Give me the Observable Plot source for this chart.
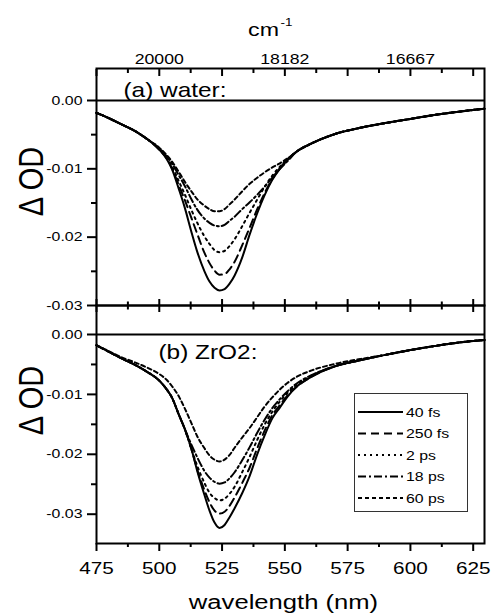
<!DOCTYPE html>
<html>
<head>
<meta charset="utf-8">
<script src="https://cdn.jsdelivr.net/npm/d3@7"></script>
<script src="https://cdn.jsdelivr.net/npm/@observablehq/plot@0.6"></script>
<style>
  html, body { margin: 0; padding: 0; background: #fff; }
  #chart { position: relative; width: 491px; height: 613px; background: #fff; }
  #chart svg { position: absolute; left: 0; top: 0; overflow: visible; }
</style>
</head>
<body>
<div id="chart"></div>
<script>
// ---------------- data ----------------
const wavelengths = [475,480,485,490,495,500,503,505,508,510,513,515,518,520,522,524,526,528,530,533,536,539,542,545,548,551,555,560,570,580,590,600,610,620,629.5];
const delays = ["40 fs", "250 fs", "2 ps", "18 ps", "60 ps"];

// (a) water, ΔOD in units of 1e-3
const water_40fs  = [-1.8,-2.6,-3.5,-4.4,-5.6,-7.2,-8.6,-10.0,-13.2,-15.5,-19.5,-22.0,-25.0,-26.5,-27.4,-27.8,-27.6,-26.8,-25.6,-23.0,-19.6,-16.5,-13.8,-11.6,-10.0,-8.7,-7.4,-6.4,-4.9,-4.0,-3.3,-2.7,-2.1,-1.6,-1.2];
const water_250fs = [-1.8,-2.6,-3.5,-4.4,-5.6,-7.2,-8.5,-9.9,-12.6,-14.4,-17.4,-19.4,-22.3,-23.8,-24.9,-25.5,-25.4,-24.7,-23.6,-21.2,-18.6,-15.9,-13.5,-11.5,-9.9,-8.7,-7.4,-6.4,-4.9,-4.0,-3.3,-2.7,-2.1,-1.6,-1.2];
const water_2ps   = [-1.8,-2.6,-3.5,-4.4,-5.6,-7.1,-8.4,-9.6,-12.0,-13.6,-16.2,-17.8,-19.9,-21.0,-21.9,-22.2,-22.0,-21.3,-20.3,-18.4,-16.4,-14.5,-12.6,-11.0,-9.7,-8.6,-7.4,-6.4,-4.9,-4.0,-3.3,-2.7,-2.1,-1.6,-1.2];
const water_18ps  = [-1.8,-2.6,-3.5,-4.4,-5.6,-7.0,-8.2,-9.2,-11.1,-12.4,-14.6,-15.9,-17.3,-17.9,-18.3,-18.4,-18.2,-17.6,-17.0,-15.9,-14.9,-13.8,-12.6,-11.3,-10.0,-8.9,-7.4,-6.4,-4.9,-4.0,-3.3,-2.7,-2.1,-1.6,-1.2];
const water_60ps  = [-1.8,-2.6,-3.5,-4.4,-5.6,-6.9,-8.0,-8.9,-10.6,-11.8,-13.4,-14.4,-15.4,-15.9,-16.2,-16.2,-15.9,-15.2,-14.5,-13.3,-12.2,-11.3,-10.5,-9.8,-9.2,-8.5,-7.4,-6.4,-4.9,-4.0,-3.3,-2.7,-2.1,-1.6,-1.2];

// (b) ZrO2, ΔOD in units of 1e-3
const zro2_40fs   = [-1.8,-2.9,-4.0,-5.0,-6.2,-7.7,-9.2,-10.5,-13.6,-15.6,-19.4,-22.6,-26.8,-29.4,-31.4,-32.3,-31.8,-30.5,-29.0,-26.5,-23.6,-20.0,-16.8,-14.0,-12.2,-10.4,-8.6,-7.2,-5.3,-4.3,-3.4,-2.6,-1.9,-1.3,-0.9];
const zro2_250fs  = [-1.8,-2.9,-4.0,-5.0,-6.2,-7.7,-9.2,-10.5,-13.6,-15.6,-19.4,-22.4,-26.0,-28.0,-29.4,-29.9,-29.6,-28.6,-27.2,-24.8,-22.2,-19.0,-16.0,-13.5,-11.8,-10.2,-8.6,-7.2,-5.3,-4.3,-3.4,-2.6,-1.9,-1.3,-0.9];
const zro2_2ps    = [-1.8,-2.9,-4.0,-5.0,-6.2,-7.7,-9.2,-10.5,-13.6,-15.6,-19.4,-21.8,-24.8,-26.4,-27.3,-27.7,-27.4,-26.6,-25.4,-23.0,-20.4,-17.6,-15.0,-12.9,-11.2,-9.8,-8.3,-7.0,-5.3,-4.3,-3.4,-2.6,-1.9,-1.3,-0.9];
const zro2_18ps   = [-1.8,-2.9,-4.0,-5.0,-6.2,-7.7,-9.2,-10.5,-13.6,-15.6,-18.6,-20.4,-22.8,-23.9,-24.6,-24.9,-24.7,-24.0,-23.0,-21.0,-18.8,-16.4,-14.2,-12.3,-10.8,-9.5,-8.1,-6.9,-5.3,-4.3,-3.4,-2.6,-1.9,-1.3,-0.9];
const zro2_60ps   = [-1.8,-2.8,-3.8,-4.6,-5.5,-6.6,-7.6,-8.6,-10.5,-12.2,-15.0,-16.9,-19.0,-20.2,-20.9,-21.2,-20.9,-20.1,-18.9,-17.2,-15.6,-13.8,-12.0,-10.5,-9.2,-8.1,-7.0,-6.1,-4.9,-4.1,-3.4,-2.6,-1.9,-1.3,-0.9];

const waterSeries = [water_40fs, water_250fs, water_2ps, water_18ps, water_60ps];
const zro2Series  = [zro2_40fs, zro2_250fs, zro2_2ps, zro2_18ps, zro2_60ps];

// axis ticks and labels
const xMajorTicks = [475,500,525,550,575,600,625];
const xMinorTicks = [487.5,512.5,537.5,562.5,587.5,612.5];
const xTickLabels = ["475","500","525","550","575","600","625"];
const topTickWavelengths = [500,550,600];
const topTickLabels = ["20000","18182","16667"];
const yMajorTicks = [0,-0.01,-0.02,-0.03];
const yMinorTicks = [-0.005,-0.015,-0.025];
const yTickLabels = ["0.00","-0.01","-0.02","-0.03"];

// ---------------- styling ----------------
const dashes = [null, "8,5", "2,4", "8,3,2,3", "4,3"];
const FONT = "'Liberation Sans', Arial, Helvetica, sans-serif";
const SX = 1.22; // horizontal text stretch seen in the original

function rowsOf(vals) {
  return wavelengths.map((w, j) => ({w, v: vals[j] / 1000}));
}
function curveMarks(series) {
  return series.map((vals, i) => Plot.line(rowsOf(vals), {
    x: "w", y: "v", stroke: "black", strokeWidth: 2,
    strokeDasharray: dashes[i], curve: "monotone-x"
  }));
}
const hide = () => "";
function leftAxes() {
  return [
    Plot.axisY(yMajorTicks, {anchor: "left", tickSize: 9, tickPadding: 5, strokeWidth: 2,
      tickFormat: d => yTickLabels[yMajorTicks.indexOf(d)], fontSize: 13, label: null}),
    Plot.axisY(yMinorTicks, {anchor: "left", tickSize: 5, strokeWidth: 2, tickFormat: hide, label: null})
  ];
}
function innerTicks(anchor, major, minor) {
  return [
    Plot.axisX(xMajorTicks, {anchor, tickSize: -major, strokeWidth: 2, tickFormat: hide, label: null}),
    Plot.axisX(xMinorTicks, {anchor, tickSize: -minor, strokeWidth: 2, tickFormat: hide, label: null})
  ];
}
const common = {
  width: 491, height: 613, marginLeft: 96, marginRight: 7,
  x: {domain: [475, 629.5], label: null},
  style: {background: "transparent", overflow: "visible", fontFamily: FONT, color: "black"}
};

// ---------------- panel (a) ----------------
const plotA = Plot.plot({
  ...common,
  marginTop: 68, marginBottom: 308,
  y: {domain: [-0.03, 0.00468], label: null},
  marks: [
    Plot.ruleY([0], {strokeWidth: 2}),
    ...curveMarks(waterSeries),
    Plot.frame({strokeWidth: 2}),
    ...leftAxes(),
    ...innerTicks("top", 7, 4),
    ...innerTicks("bottom", 6, 3.5),
    Plot.axisX(topTickWavelengths, {anchor: "top", tickSize: 0, tickPadding: 5, fontSize: 14.5,
      tickFormat: d => topTickLabels[topTickWavelengths.indexOf(d)], label: null}),
    Plot.text(["cm"], {frameAnchor: "top-left", dx: 167, dy: -33, textAnchor: "middle", lineAnchor: "bottom", fontSize: 19}),
    Plot.text(["-1"], {frameAnchor: "top-left", dx: 184, dy: -43, textAnchor: "start", lineAnchor: "bottom", fontSize: 11}),
    Plot.text(["(a) water:"], {frameAnchor: "top-left", dx: 27, dy: 28, textAnchor: "start", lineAnchor: "bottom", fontSize: 20}),
    Plot.text(["Δ OD"], {frameAnchor: "left", dx: -65, dy: -5.5, rotate: -90, textAnchor: "middle", lineAnchor: "middle", fontSize: 29})
  ]
});

// ---------------- panel (b) ----------------
const plotB = Plot.plot({
  ...common,
  marginTop: 305, marginBottom: 70,
  y: {domain: [-0.03489, 0.00484], label: null},
  marks: [
    Plot.ruleY([0], {strokeWidth: 2}),
    ...curveMarks(zro2Series),
    Plot.frame({strokeWidth: 2}),
    ...leftAxes(),
    ...innerTicks("top", 6, 3.5),
    Plot.axisX(xMajorTicks, {anchor: "bottom", tickSize: 8, strokeWidth: 2, tickFormat: hide, label: null}),
    Plot.axisX(xMinorTicks, {anchor: "bottom", tickSize: 4, strokeWidth: 2, tickFormat: hide, label: null}),
    Plot.axisX(xMajorTicks, {anchor: "bottom", tickSize: 0, tickPadding: 18.5, fontSize: 17,
      tickFormat: d => xTickLabels[xMajorTicks.indexOf(d)], label: null}),
    Plot.text(["(b) ZrO2:"], {frameAnchor: "top-left", dx: 62, dy: 53, textAnchor: "start", lineAnchor: "bottom", fontSize: 20}),
    Plot.text(["Δ OD"], {frameAnchor: "left", dx: -65, dy: -24, rotate: -90, textAnchor: "middle", lineAnchor: "middle", fontSize: 29}),
    Plot.text(["wavelength (nm)"], {frameAnchor: "bottom", dx: -7, dy: 65, textAnchor: "middle", lineAnchor: "bottom", fontSize: 21})
  ]
});

// legend (inside panel b)
const lg = d3.select(plotB).append("g")
  .attr("font-family", FONT).attr("font-size", 13).attr("text-anchor", "start");
lg.append("rect").attr("x", 354.5).attr("y", 393.5).attr("width", 113).attr("height", 118)
  .attr("fill", "none").attr("stroke", "#333").attr("stroke-width", 1);
delays.forEach((name, i) => {
  const y = 412 + i * 21.5;
  lg.append("line").attr("x1", 358).attr("x2", 403).attr("y1", y).attr("y2", y)
    .attr("stroke", "black").attr("stroke-width", 2).attr("stroke-dasharray", dashes[i]);
  lg.append("text").attr("transform", `translate(406,${y})`).attr("dy", "0.35em")
    .attr("text-anchor", "start").attr("fill", "black").text(name);
});

// horizontal text stretch, about each text's own anchor
function stretch(svg) {
  svg.querySelectorAll("text").forEach(t => {
    const tr = t.getAttribute("transform") || "";
    if (tr.includes("rotate")) t.setAttribute("transform", tr.replace("rotate", `scale(${SX},1) rotate`));
    else t.setAttribute("transform", `${tr} scale(${SX},1)`);
  });
}
stretch(plotA); stretch(plotB);

const chart = document.getElementById("chart");
chart.appendChild(plotA);
chart.appendChild(plotB);
</script>
</body>
</html>
